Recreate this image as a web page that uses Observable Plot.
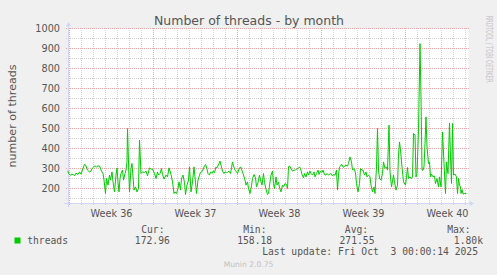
<!DOCTYPE html>
<html>
<head>
<meta charset="utf-8">
<script src="https://cdn.jsdelivr.net/npm/d3@7"></script>
<script src="https://cdn.jsdelivr.net/npm/@observablehq/plot@0.6"></script>
<style>
html, body { margin: 0; padding: 0; background: #F0F0F0; }
#chart svg text { white-space: pre; }
</style>
</head>
<body>
<div id="chart"></div>
<script>
// ---- data ----
const title = "Number of threads - by month";
const yLabel = "number of threads";
const seriesName = "threads";
const watermark = "RRDTOOL / TOBI OETIKER";
const versionText = "Munin 2.0.75";
const lastUpdate = "Last update: Fri Oct  3 00:00:14 2025";
const legendHeaders = ["Cur:", "Min:", "Avg:", "Max:"];
const legendValues = ["172.96", "158.18", "271.55", "1.80k"];
const weekNumbers = [36, 37, 38, 39, 40];
const weekLabels = ["Week 36", "Week 37", "Week 38", "Week 39", "Week 40"];
const yTicks = [200, 300, 400, 500, 600, 700, 800, 900, 1000];
const yMinorTicks = [150, 250, 350, 450, 550, 650, 750, 850, 950];
const yDomain = [125, 1000];

// hours since 2025-08-30 20:00 UTC
const hours = [1,2,6,11,14,17,21,24,27,30,34,37,40,44,47,50,55,58,61,64,68,71,73,76,78,81,84,86,89,91,94,97,99,101,103,105,107,110,112,115,117,119,120,123,124,127,129,
133,136,139,142,144,147,150,154,157,160,164,167,170,174,177,180,182,185,188,190,193,197,200,203,207,210,213,215,218,221,223,226,228,231,234,236,239,242,244,247,250,253,256,258,261,264,
266,270,273,276,278,281,284,286,289,291,294,297,299,303,305,307,310,313,315,318,320,323,326,328,330,332,335,338,340,343,346,348,352,355,357,360,362,365,368,370,373,376,378,381,384,386,389,392,394,397,400,
402,405,407,410,412,414,417,419,422,424,427,430,432,435,438,440,442,444,447,450,453,456,458,461,464,466,469,472,474,477,480,482,485,487,490,493,495,498,501,503,506,509,511,514,517,519,522,524,527,530,532,535,538,540,542,544,
546,548,552,554,557,560,562,565,568,570,573,576,578,581,584,586,589,591,594,597,599,602,605,607,610,613,615,618,620,622,624,627,630,632,635,638,640,643,645,648,652,654,657,660,662,664,666,669,672,
676,678,680,682,685,688,690,692,695,697,699,702,705,707,709,711,713,715,717,719,722,724,726,728,731,734,736,739,742,744,747,750,753,756,758,761,764,766,768,770,772,775,778,780,782,784,786,787,789,791,794,797];

const threads = [287,275,267,272,263,277,270,283,272,292,322,313,292,283,287,303,313,308,313,313,287,275,242,175,250,217,267,242,283,233,183,267,303,230,183,250,275,292,242,275,292,333,500,250,183,300,325,
192,208,183,200,442,275,283,280,287,263,303,297,297,275,250,283,267,275,300,270,247,267,258,303,270,233,175,183,175,200,233,192,250,267,230,170,217,242,308,183,233,308,230,175,242,267,
280,287,308,320,308,275,267,283,275,287,280,308,303,325,337,317,287,275,283,280,280,287,275,303,333,313,292,283,275,297,308,297,267,242,217,233,200,175,213,250,270,253,208,230,267,242,217,275,230,197,170,
175,233,267,287,225,200,258,217,233,203,183,217,208,225,220,200,308,313,300,287,292,292,297,300,308,300,270,253,275,258,283,267,287,275,267,283,258,275,292,270,287,280,292,270,267,275,267,270,275,263,270,267,292,192,267,308,
312,322,305,312,317,312,325,358,333,292,300,278,225,183,225,300,292,292,267,283,258,267,258,217,183,208,175,308,500,292,250,242,275,333,300,308,292,517,283,208,267,233,192,217,367,433,392,308,233,
217,258,305,250,258,250,258,475,467,258,275,492,925,658,292,292,308,425,558,408,325,333,258,272,258,262,225,250,208,258,208,483,325,175,333,275,528,358,225,525,267,272,258,175,250,217,208,175,195,172,175,175];

// ---- derived tables ----
const H = 3600e3;
const t0 = Date.UTC(2025, 7, 30, 20);
const xStart = new Date(t0 + 2 * H);
const xEnd = new Date(t0 + 802 * H);
const rows = hours.map((h, i) => ({t: new Date(t0 + h * H), v: threads[i]}));
const sundays = d3.utcSunday.range(xStart, xEnd);
const minorDays = d3.utcDay.range(xStart, xEnd).filter(d => d.getUTCDay() !== 0);
const weekTicks = sundays.map(d => d3.utcHour.offset(d, 84));
const weekLabelOf = d => {
  const n = +d3.utcFormat("%V")(d);
  return weekLabels[weekNumbers.indexOf(n)];
};

const W = 497, HH = 275, ML = 68, MT = 28;
const FONT = "#555555";
const MINOR = "#D2D2D2", MAJOR = "#EFA6A6", AXIS = "#CFD6F8";
const at = (txt, px, py, opts) => Plot.text([txt], {
  frameAnchor: "top-left", dx: px - ML, dy: py - MT, lineAnchor: "bottom", ...opts
});
const mono = {fontFamily: "DejaVu Sans Mono", fontSize: 9.7, fill: FONT};
const legendHeaderX = [140.7, 242.7, 344.3, 446.7];
const legendValueX = [134.3, 236.7, 339, 453.3];

const chart = Plot.plot({
  width: W, height: HH,
  marginLeft: ML, marginRight: 29, marginTop: MT, marginBottom: 72,
  style: {background: "#F0F0F0", fontFamily: "DejaVu Sans", color: FONT, overflow: "visible"},
  x: {type: "utc", domain: [xStart, xEnd]},
  y: {domain: yDomain},
  marks: [
    Plot.frame({fill: "#FFFFFF", stroke: "none"}),
    Plot.ruleY(yMinorTicks, {stroke: MINOR, strokeDasharray: "1,1", insetLeft: -2, insetRight: -2}),
    Plot.ruleX(minorDays, {stroke: MINOR, strokeDasharray: "1,1", insetBottom: -2}),
    Plot.ruleY(yTicks, {stroke: MAJOR, strokeDasharray: "1,1", insetLeft: -2, insetRight: -2}),
    Plot.ruleX(sundays, {stroke: MAJOR, strokeDasharray: "1,1", insetBottom: -2}),
    Plot.ruleY([yDomain[0]], {stroke: AXIS, insetLeft: -4, insetRight: -1}),
    Plot.ruleX([xStart], {stroke: AXIS, insetTop: -2, insetBottom: -4}),
    Plot.dot([0], {frameAnchor: "bottom-right", dx: 2.5, symbol: "triangle", rotate: 90, r: 1.9, fill: AXIS, stroke: "none"}),
    Plot.dot([0], {frameAnchor: "top-left", dy: -3.5, symbol: "triangle", r: 1.9, fill: AXIS, stroke: "none"}),
    Plot.line(rows, {x: "t", y: "v", stroke: "#00CC00", strokeWidth: 1}),
    Plot.axisY(yTicks, {tickSize: 0, tickPadding: 8.5, tickFormat: d => String(d), fontSize: 9.7, color: FONT, label: null}),
    Plot.axisX(weekTicks, {tickSize: 0, tickPadding: 6.5, tickFormat: weekLabelOf, fontSize: 9.7, color: FONT, label: null}),
    at(title, 248.5, 24, {textAnchor: "middle", fontSize: 12.5, fill: FONT}),
    at(yLabel, 15, 115.5, {textAnchor: "middle", rotate: -90, fontSize: 11.1, fill: FONT}),
    at(watermark, 485.5, 15, {textAnchor: "start", rotate: 90, fontSize: 8, fill: "#C4C4C4"}),
    ...legendHeaders.map((h, i) => at(h, legendHeaderX[i], 232, {textAnchor: "start", ...mono})),
    Plot.dot([0], {frameAnchor: "top-left", dx: 17 - ML, dy: 240 - MT, symbol: "square", r: 3.4, fill: "#00CC00", stroke: "none"}),
    at(seriesName, 26.7, 243.5, {textAnchor: "start", ...mono}),
    ...legendValues.map((v, i) => at(v, legendValueX[i], 243.5, {textAnchor: "start", ...mono})),
    at(lastUpdate, 261.7, 254.8, {textAnchor: "start", ...mono}),
    at(versionText, 248, 266.5, {textAnchor: "middle", fontSize: 7.6, fill: "#C0C0C0"})
  ]
});
document.getElementById("chart").append(chart);
d3.select(chart).selectAll("text")
  .filter(function () { return this.textContent === watermark; })
  .attr("textLength", 67).attr("lengthAdjust", "spacingAndGlyphs");
</script>
</body>
</html>
